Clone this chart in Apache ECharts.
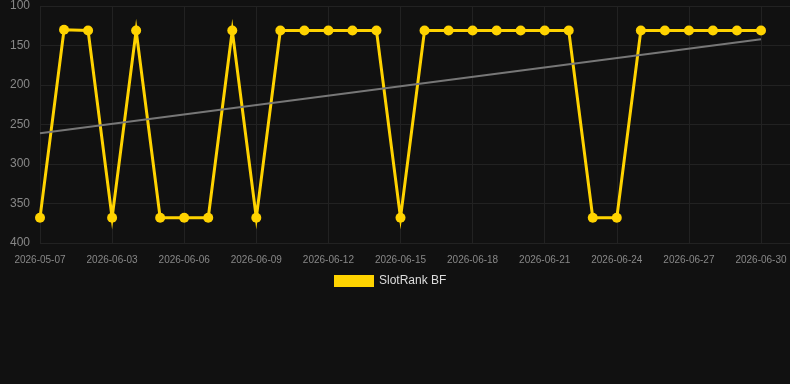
<!DOCTYPE html>
<html>
<head>
<meta charset="utf-8">
<script src="https://cdn.jsdelivr.net/npm/echarts@6/dist/echarts.min.js"></script>
<style>
  html, body { margin: 0; padding: 0; background: #111111; }
  #chart { width: 790px; height: 384px; }
</style>
</head>
<body>
<div id="chart"></div>
<script>
const dates = [
  '2026-05-07', '2026-06-01', '2026-06-02', '2026-06-03', '2026-06-04', '2026-06-05',
  '2026-06-06', '2026-06-07', '2026-06-08', '2026-06-09', '2026-06-10', '2026-06-11',
  '2026-06-12', '2026-06-13', '2026-06-14', '2026-06-15', '2026-06-16', '2026-06-17',
  '2026-06-18', '2026-06-19', '2026-06-20', '2026-06-21', '2026-06-22', '2026-06-23',
  '2026-06-24', '2026-06-25', '2026-06-26', '2026-06-27', '2026-06-28', '2026-06-29',
  '2026-06-30'
]
const ranks = [
  368, 130, 131, 368, 131, 368, 368, 368, 131, 368, 131, 131,
  131, 131, 131, 368, 131, 131, 131, 131, 131, 131, 131, 368,
  368, 131, 131, 131, 131, 131, 131
]
const trendStart = 261
const trendEnd = 142
const yTicks = { min: 100, max: 400, step: 50 }

const font = 'Arial, Liberation Sans, sans-serif'
const chart = echarts.init(document.getElementById('chart'))

chart.setOption({
  backgroundColor: '#111111',
  animation: false,
  grid: [
    { left: 40, right: 29, top: 6, bottom: 141 },
    // wider grid only for the horizontal split lines, they run to the edge
    { left: 40, right: 0, top: 6, bottom: 141 }
  ],
  legend: {
    bottom: 92,
    left: 329,
    itemWidth: 40,
    itemHeight: 12,
    icon: 'rect',
    textStyle: { color: '#dddddd', fontSize: 12, fontFamily: font },
    data: ['SlotRank BF']
  },
  xAxis: [
    {
      type: 'category',
      data: dates,
      boundaryGap: false,
      axisLine: { show: false },
      axisTick: { show: false },
      axisLabel: { interval: 2, color: '#888888', fontSize: 10, margin: 12, fontFamily: font },
      splitLine: { show: true, interval: 2, lineStyle: { color: '#222222', width: 1 } }
    },
    { type: 'value', gridIndex: 1, show: false }
  ],
  yAxis: [
    {
      type: 'value',
      inverse: true,
      min: yTicks.min,
      max: yTicks.max,
      interval: yTicks.step,
      axisLine: { show: false },
      axisTick: { show: false },
      axisLabel: { color: '#888888', fontSize: 12, margin: 10, fontFamily: font },
      splitLine: { show: false }
    },
    {
      type: 'value',
      gridIndex: 1,
      inverse: true,
      min: yTicks.min,
      max: yTicks.max,
      interval: yTicks.step,
      axisLine: { show: false },
      axisTick: { show: false },
      axisLabel: { show: false },
      splitLine: { lineStyle: { color: '#222222', width: 1 } }
    }
  ],
  series: [
    {
      name: 'SlotRank BF',
      type: 'line',
      data: ranks,
      symbol: 'circle',
      symbolSize: 10,
      itemStyle: { color: '#ffd300' },
      lineStyle: { color: '#ffd300', width: 3, join: 'miter', miterLimit: 10 },
      z: 3,
      markLine: {
        silent: true,
        symbol: 'none',
        label: { show: false },
        lineStyle: { color: '#777777', width: 2, type: 'solid' },
        data: [[{ coord: [0, trendStart] }, { coord: [dates.length - 1, trendEnd] }]]
      }
    }
  ]
})

window.addEventListener('resize', () => chart.resize())
</script>
</body>
</html>
